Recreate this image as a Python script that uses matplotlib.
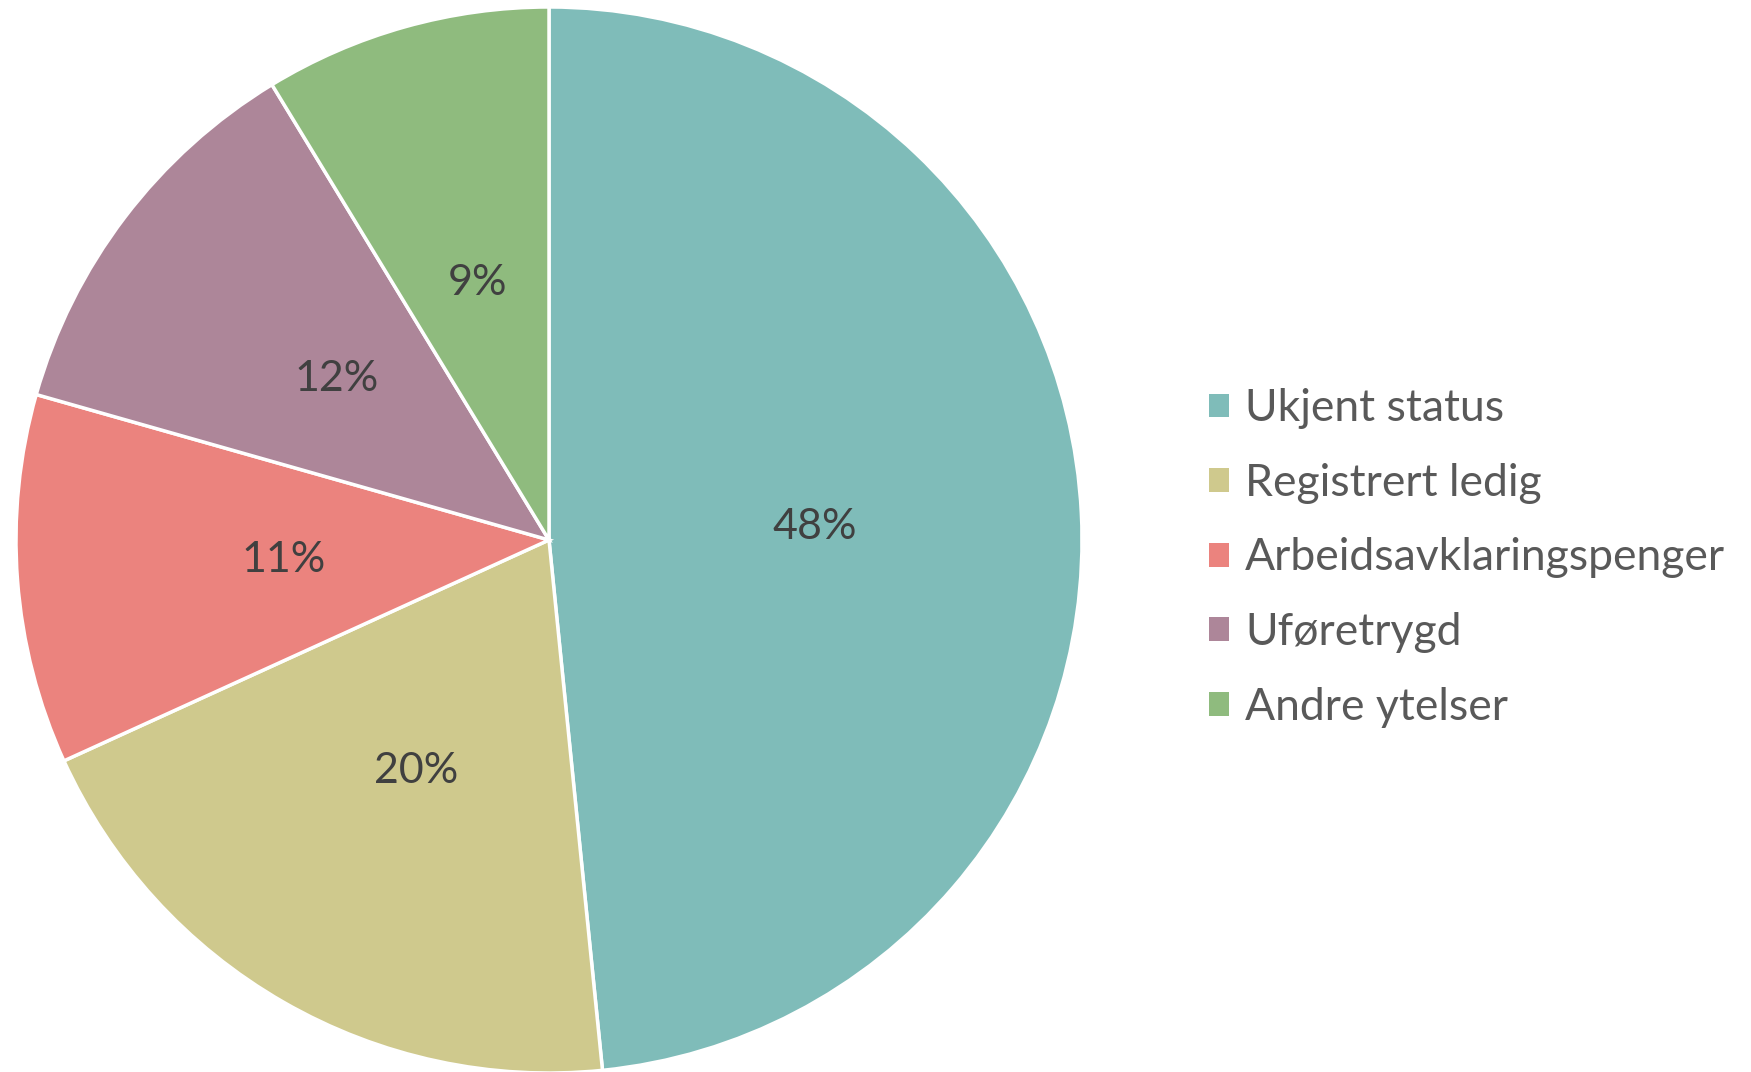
import matplotlib
matplotlib.use('Agg')
import matplotlib.pyplot as plt

# Data (shares; labels show rounded values)
labels = ["Ukjent status", "Registrert ledig", "Arbeidsavklaringspenger", "Uføretrygd", "Andre ytelser"]
shares = [48.4, 19.8, 11.2, 11.9, 8.7]
colors = ["#7FBCB9", "#CFC98D", "#EB837E", "#AD8699", "#8FBB7E"]

plt.rcParams['font.family'] = ['Lato', 'DejaVu Sans']

W, H = 1751, 1072
fig = plt.figure(figsize=(W / 100, H / 100), dpi=100)
ax = fig.add_axes([0, 0, 1, 1])

wedges, texts, autotexts = ax.pie(
    shares, colors=colors, startangle=90, counterclock=False,
    center=(549, H - 540), radius=533, frame=True,
    autopct=lambda p: f"{p:.0f}%", pctdistance=0.5,
    wedgeprops=dict(edgecolor="white", linewidth=2.5),
    textprops=dict(color="#404040", fontsize=31))
ax.set_xlim(0, W)
ax.set_ylim(0, H)
ax.set_aspect('equal')
ax.axis('off')

leg = ax.legend(wedges, labels, loc="center left",
                bbox_to_anchor=(1209 / W, 1 - 558 / H),
                frameon=False, fontsize=32, labelcolor="#595959",
                handlelength=0.45, handleheight=0.45, handletextpad=0.36,
                labelspacing=0.756, borderpad=0, borderaxespad=0)
for h in leg.legend_handles:
    h.set_linewidth(0)

fig.savefig("out.png", dpi=100)
